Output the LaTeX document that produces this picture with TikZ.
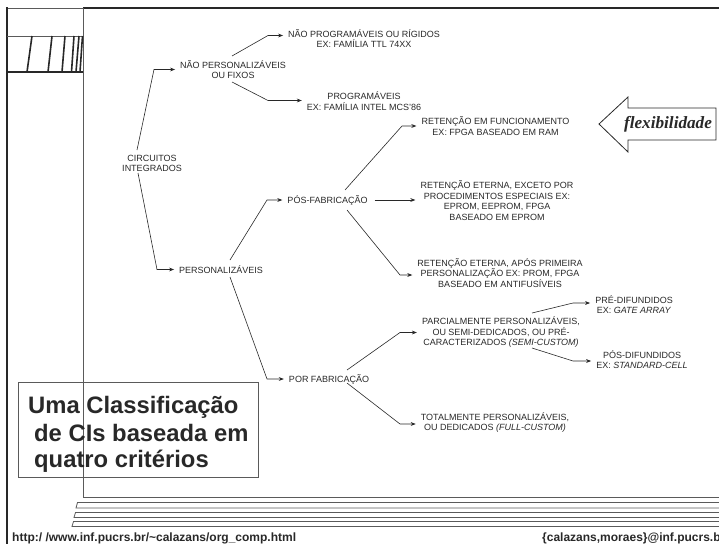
\documentclass[tikz,border=0pt]{standalone}
\usepackage{fontspec}
\setmainfont{Liberation Sans}
\newfontfamily\flexfont{Liberation Serif}
\usetikzlibrary{arrows.meta}
\definecolor{ink}{RGB}{40,40,40}
\definecolor{rule}{RGB}{90,90,90}
\begin{document}
\begin{tikzpicture}[x=1pt,y=-1pt,
  lbl/.style={align=center,font=\fontsize{9}{10.5}\selectfont,text=ink,inner sep=0pt},
  arr/.style={draw=ink,line width=0.6pt,-{Stealth[length=5pt,width=3.8pt]},shorten >=5pt},
  thinline/.style={draw=rule,line width=0.8pt},
  title/.style={anchor=base west,inner sep=0pt,text=ink,font=\fontsize{23.8}{27}\selectfont\bfseries},
  foot/.style={anchor=base west,inner sep=0pt,text=ink,font=\fontsize{12}{14}\selectfont\bfseries}]
\useasboundingbox (0,0) rectangle (719,544);
\clip (0,0) rectangle (719,544);
% frame
\draw[thinline] (7,8) -- (83,8);
\draw[draw=ink,line width=2.5pt] (83,8) -- (719,8);
\draw[draw=ink,line width=2pt] (7,7) -- (7,544);
\draw[thinline] (83,8) -- (83,497) -- (719,497);
% footer bands
\draw[thinline] (719,502.5) -- (77.5,502.5) -- (76,508) -- (719,508);
\draw[thinline] (719,512.5) -- (75.5,512.5) -- (74,517.5) -- (719,517.5);
\draw[thinline] (719,521.5) -- (73.5,521.5) -- (72,526.5) -- (719,526.5);
% binding decoration
\draw[thinline] (7,36) -- (83,36);
\draw[draw=ink,line width=1.6pt] (7,72) -- (83,72);
\foreach \a/\b in {27/32,48/52,62/65,71.5/74,76/79,80/82.5}
  \draw[draw=ink,line width=1.6pt] (\a,72) -- (\b,36);
% flexibilidade arrow
\draw[draw=ink,line width=0.8pt,fill=white] (599,124) -- (628,97) -- (628,108) -- (716,108) -- (716,140) -- (628,140) -- (628,152) -- cycle;
\node[inner sep=0pt,text=ink,font=\flexfont\fontsize{17.2}{19}\selectfont\bfseries\itshape] (flex) at (668,124) {flexibilidade};
% title box
\draw[thinline] (18,382) rectangle (258,477);
\node[title] (t1) at (28,413) {Uma Classificação};
\node[title] (t2) at (34,441) {de CIs baseada em};
\node[title] (t3) at (34,467) {quatro critérios};
% footer text
\node[foot] (url) at (12,541) {http:/ /www.inf.pucrs.br/\textasciitilde calazans/org\_comp.html};
\node[foot] (mail) at (542,541) {\{calazans,moraes\}@inf.pucrs.br};
% tree nodes
\node[lbl] (ci) at (152,163.5) {CIRCUITOS\\INTEGRADOS};
\node[lbl] (npf) at (233,69.5) {NÃO PERSONALIZÁVEIS\\OU FIXOS};
\node[lbl] (nprog) at (364,38.5) {NÃO PROGRAMÁVEIS OU RÍGIDOS\\EX: FAMÍLIA TTL 74XX};
\node[lbl] (prog) at (364,101) {PROGRAMÁVEIS\\EX: FAMÍLIA INTEL MCS'86};
\node[lbl] (pers) at (221,269.5) {PERSONALIZÁVEIS};
\node[lbl] (posfab) at (327.5,200) {PÓS-FABRICAÇÃO};
\node[lbl] (ret1) at (495.5,126) {RETENÇÃO EM FUNCIONAMENTO\\EX: FPGA BASEADO EM RAM};
\node[lbl] (ret2) at (497,200.5) {RETENÇÃO ETERNA, EXCETO POR\\PROCEDIMENTOS ESPECIAIS EX:\\EPROM, EEPROM, FPGA\\BASEADO EM EPROM};
\node[lbl] (ret3) at (500,273) {RETENÇÃO ETERNA, APÓS PRIMEIRA\\PERSONALIZAÇÃO EX: PROM, FPGA\\BASEADO EM ANTIFUSÍVEIS};
\node[lbl] (porfab) at (329,379) {POR FABRICAÇÃO};
\node[lbl] (parc) at (501,332.5) {PARCIALMENTE PERSONALIZÁVEIS,\\OU SEMI-DEDICADOS, OU PRÉ-\\CARACTERIZADOS \textit{(SEMI-CUSTOM)}};
\node[lbl] (pre) at (634,304.5) {PRÉ-DIFUNDIDOS\\EX: \textit{GATE ARRAY}};
\node[lbl] (posd) at (642,359.5) {PÓS-DIFUNDIDOS\\EX: \textit{STANDARD-CELL}};
\node[lbl] (tot) at (495,422.5) {TOTALMENTE PERSONALIZÁVEIS,\\OU DEDICADOS \textit{(FULL-CUSTOM)}};
% connector coordinates
\coordinate (s1) at (137,150); \coordinate (b1) at (154,69.5);
\coordinate (s2) at (138,173); \coordinate (b2) at (157,269.5);
\coordinate (s3) at (232,56);  \coordinate (b3) at (268,35.5);
\coordinate (s4) at (232,82);  \coordinate (b4) at (268,100.5);
\coordinate (s5) at (230,260); \coordinate (b5) at (267,200);
\coordinate (s6) at (230,277); \coordinate (b6) at (267,379);
\coordinate (s7) at (345,190); \coordinate (b7) at (402,126);
\coordinate (s9) at (347,210); \coordinate (b9) at (400,275);
\coordinate (s10) at (347,370); \coordinate (b10) at (400,332.5);
\coordinate (s11) at (347,383); \coordinate (b11) at (400,424);
\coordinate (s12) at (532,313); \coordinate (b12) at (573,303);
\coordinate (s13) at (532,348); \coordinate (b13) at (573,361);
% connectors
\draw[arr] (s1) -- (b1) -- (b1 -| npf.west);
\draw[arr] (s2) -- (b2) -- (b2 -| pers.west);
\draw[arr] (s3) -- (b3) -- (b3 -| nprog.west);
\draw[arr] (s4) -- (b4) -- (b4 -| prog.west);
\draw[arr] (s5) -- (b5) -- (b5 -| posfab.west);
\draw[arr] (s6) -- (b6) -- (b6 -| porfab.west);
\draw[arr] (s7) -- (b7) -- (b7 -| ret1.west);
\draw[arr,shorten <=7pt] (posfab.east) -- (posfab.east -| ret2.west);
\draw[arr] (s9) -- (b9) -- (b9 -| ret3.west);
\draw[arr] (s10) -- (b10) -- (b10 -| parc.west);
\draw[arr] (s11) -- (b11) -- (b11 -| tot.west);
\draw[arr] (s12) -- (b12) -- (b12 -| pre.west);
\draw[arr] (s13) -- (b13) -- (b13 -| posd.west);
\end{tikzpicture}
\end{document}
